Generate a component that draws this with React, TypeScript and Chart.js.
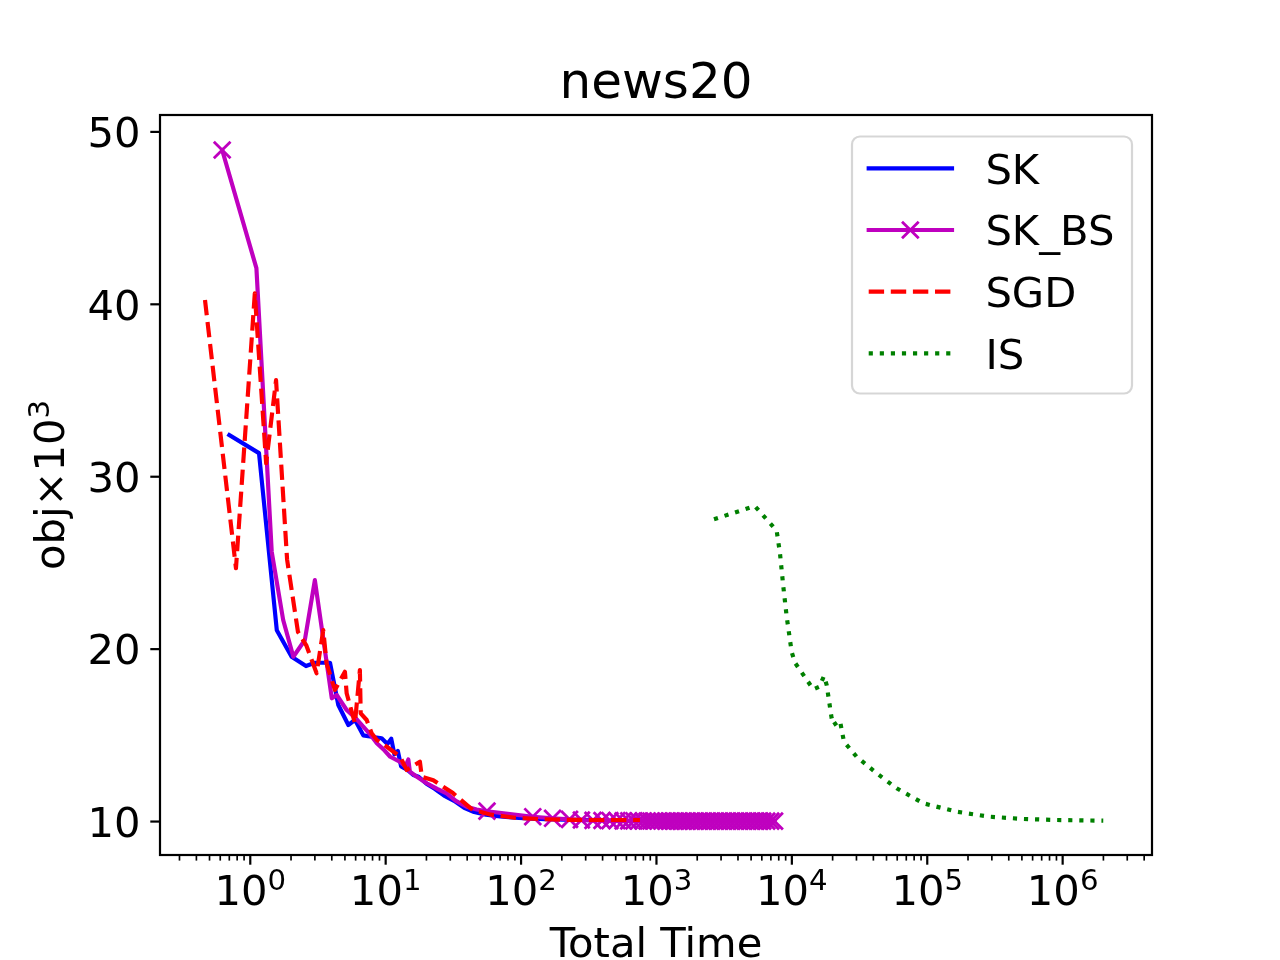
import React, { useEffect, useRef } from "react";
import { Chart, registerables } from "chart.js";

Chart.register(...registerables);

// ---------------- data ----------------
const skTime = [0.70, 1.16, 1.57, 2.02, 2.58, 3.0, 3.88, 4.47, 5.3, 5.93, 6.83, 8.1, 9.34, 10.3, 11.0, 11.6, 12.3, 13.0, 14.5, 16, 17.5, 20, 23, 27, 32, 38, 45, 55, 70, 90, 120, 170, 250, 350];
const skObj = [32.42, 31.37, 21.1, 19.56, 19.02, 19.21, 19.21, 16.76, 15.6, 15.9, 15.0, 14.9, 14.83, 14.5, 14.8, 13.9, 14.1, 13.2, 13.0, 12.7, 12.6, 12.2, 11.9, 11.5, 11.2, 10.8, 10.55, 10.4, 10.3, 10.22, 10.17, 10.12, 10.1, 10.08];

// SK_BS: early (unmarked) iterations, then marked iterations
const skbsHeadTime = [0.62, 1.11, 1.44, 1.75, 2.08, 2.53, 3.0, 4.0, 4.35, 5.15, 6.0, 6.83, 7.6, 8.6, 9.6, 10.8, 12.5, 14.0, 14.7, 15.1, 17, 20.1, 24, 28.2, 33, 39.6, 47];
const skbsHeadObj = [48.95, 42.1, 25.65, 21.69, 19.56, 20.53, 24.0, 17.15, 17.34, 16.47, 16.0, 15.5, 15.1, 14.54, 14.2, 13.76, 13.5, 13.2, 13.6, 12.89, 12.6, 12.22, 11.9, 11.64, 11.2, 10.86, 10.7];
const skbsTailTime = [56, 122, 171, 228, 279, 340, 396, 453, 510, 567, 624, 681, 738, 795, 852, 909, 966, 1030, 1100, 1180, 1260, 1350, 1450, 1550, 1660, 1780, 1900, 2040, 2180, 2340, 2500, 2680, 2870, 3070, 3290, 3520, 3770, 4040, 4320, 4630, 4960, 5310, 5690, 6090, 6520, 6980, 7450];
const skbsTailObj = [10.6, 10.28, 10.19, 10.13, 10.09, 10.07, 10.06, 10.05, 10.05, 10.04, 10.04, 10.04, 10.03, 10.03, 10.03, 10.03, 10.03, 10.03, 10.03, 10.02, 10.02, 10.02, 10.02, 10.02, 10.02, 10.02, 10.02, 10.02, 10.02, 10.02, 10.02, 10.02, 10.02, 10.02, 10.02, 10.02, 10.02, 10.02, 10.02, 10.02, 10.02, 10.02, 10.02, 10.02, 10.02, 10.02, 10.02];

const sgdTime = [0.463, 0.784, 1.08, 1.31, 1.55, 1.87, 2.25, 2.6, 3.09, 3.46, 3.66, 4.22, 5.0, 5.15, 5.93, 6.45, 6.54, 7.24, 7.88, 8.6, 10.2, 12.8, 14.3, 17.9, 18.5, 22.5, 31.4, 44, 60, 90, 140, 220, 350, 520, 755];
const sgdObj = [40.25, 24.69, 40.63, 30.78, 35.6, 25.2, 21.0, 20.2, 18.6, 21.1, 19.18, 17.63, 18.69, 17.44, 15.7, 18.79, 16.28, 15.89, 15.12, 14.73, 14.34, 13.76, 12.99, 13.47, 12.6, 12.4, 11.65, 10.67, 10.4, 10.22, 10.14, 10.1, 10.09, 10.09, 10.09];

const isTime = [2660, 5330, 7720, 8170, 8650, 9160, 9960, 10550, 14400, 15950, 17270, 18080, 19670, 20240, 22650, 24260, 30100, 42300, 59400, 93500, 165000, 290000, 512000, 903000, 1995000];
const isObj = [27.53, 28.3, 26.87, 25.56, 23.62, 21.88, 19.85, 19.21, 17.67, 17.82, 18.44, 17.92, 15.99, 15.6, 15.85, 14.63, 13.76, 12.8, 11.93, 11.06, 10.57, 10.28, 10.15, 10.09, 10.05];

const seriesLabels = ["SK", "SK_BS", "SGD", "IS"];
const xMajorTicks = [1, 10, 100, 1000, 10000, 100000, 1000000];
const xTickExponents = ["0", "1", "2", "3", "4", "5", "6"];
const yTicks = [10, 20, 30, 40, 50];
const titleText = "news20";
const xLabelText = "Total Time";
const yLabelBase = "obj\u00d710";
const yLabelSup = "3";

const X_MIN = 0.2154;
const X_MAX = 4.57e6;
const Y_MIN = 8.06;
const Y_MAX = 50.98;

// ---------------- styling ----------------
const FONT = '"DejaVu Sans", "Liberation Sans", sans-serif';
const F_MAIN = 41.7;
const F_SUP = 29.2;
const F_TITLE = 50;
const LW = 4.17;
const MARKER_R = 11.8;
const C_SK = "#0000ff";
const C_SKBS = "#bf00bf";
const C_SGD = "#ff0000";
const C_IS = "#008000";
const DASH = [15.4, 6.7];
const DOT = [4.17, 6.9];

const zip = (xs: number[], ys: number[]) => xs.map((x, i) => ({ x, y: ys[i] }));

function drawCrossRot(ctx: CanvasRenderingContext2D, x: number, y: number, r: number) {
  const o = Math.cos(Math.PI / 4) * r;
  ctx.beginPath();
  ctx.moveTo(x - o, y - o);
  ctx.lineTo(x + o, y + o);
  ctx.moveTo(x + o, y - o);
  ctx.lineTo(x - o, y + o);
  ctx.stroke();
}

const mplPlugin = {
  id: "mplDecor",
  afterDatasetsDraw(chart: any) {
    const ctx: CanvasRenderingContext2D = chart.ctx;
    const { left, right, top, bottom } = chart.chartArea;
    const xs = chart.scales.x;
    const ys = chart.scales.y;
    ctx.save();

    // frame
    ctx.strokeStyle = "#000";
    ctx.lineWidth = 2.2;
    ctx.setLineDash([]);
    ctx.lineCap = "butt";
    ctx.strokeRect(left, top, right - left, bottom - top);

    // x ticks (major + minor)
    for (let k = -1; k <= 6; k++) {
      for (let m = 1; m <= 9; m++) {
        const v = m * Math.pow(10, k);
        if (v < X_MIN || v > X_MAX) continue;
        const px = xs.getPixelForValue(v);
        const major = m === 1;
        ctx.lineWidth = major ? 2.2 : 1.67;
        ctx.beginPath();
        ctx.moveTo(px, bottom);
        ctx.lineTo(px, bottom + (major ? 9.7 : 5.6));
        ctx.stroke();
      }
    }
    // y ticks
    ctx.lineWidth = 2.2;
    yTicks.forEach((v) => {
      const py = ys.getPixelForValue(v);
      ctx.beginPath();
      ctx.moveTo(left - 9.7, py);
      ctx.lineTo(left, py);
      ctx.stroke();
    });

    ctx.fillStyle = "#000";
    ctx.textBaseline = "alphabetic";

    // x tick labels 10^k
    xMajorTicks.forEach((v, i) => {
      const px = xs.getPixelForValue(v);
      ctx.font = `${F_MAIN}px ${FONT}`;
      const w1 = ctx.measureText("10").width;
      ctx.font = `${F_SUP}px ${FONT}`;
      const w2 = ctx.measureText(xTickExponents[i]).width;
      const x0 = px - (w1 + w2) / 2;
      ctx.textAlign = "left";
      ctx.font = `${F_MAIN}px ${FONT}`;
      ctx.fillText("10", x0, bottom + 50);
      ctx.font = `${F_SUP}px ${FONT}`;
      ctx.fillText(xTickExponents[i], x0 + w1, bottom + 35);
    });

    // y tick labels
    ctx.font = `${F_MAIN}px ${FONT}`;
    ctx.textAlign = "right";
    yTicks.forEach((v) => {
      const py = ys.getPixelForValue(v);
      ctx.fillText(String(v), left - 19.4, py + 15.2);
    });

    // title
    ctx.textAlign = "center";
    ctx.font = `${F_TITLE}px ${FONT}`;
    ctx.fillText(titleText, (left + right) / 2, top - 16.7);

    // x label
    ctx.font = `${F_MAIN}px ${FONT}`;
    ctx.fillText(xLabelText, (left + right) / 2, 957);

    // y label (rotated)
    ctx.save();
    ctx.translate(64, (top + bottom) / 2);
    ctx.rotate(-Math.PI / 2);
    ctx.textAlign = "left";
    ctx.font = `${F_MAIN}px ${FONT}`;
    const wb = ctx.measureText(yLabelBase).width;
    ctx.font = `${F_SUP}px ${FONT}`;
    const ws = ctx.measureText(yLabelSup).width;
    const sx = -(wb + ws) / 2;
    ctx.font = `${F_MAIN}px ${FONT}`;
    ctx.fillText(yLabelBase, sx, 0);
    ctx.font = `${F_SUP}px ${FONT}`;
    ctx.fillText(yLabelSup, sx + wb, -15);
    ctx.restore();

    // legend
    const bx = 852, by = 136.5, bw = 280, bh = 257, br = 8;
    ctx.beginPath();
    ctx.moveTo(bx + br, by);
    ctx.lineTo(bx + bw - br, by);
    ctx.arcTo(bx + bw, by, bx + bw, by + br, br);
    ctx.lineTo(bx + bw, by + bh - br);
    ctx.arcTo(bx + bw, by + bh, bx + bw - br, by + bh, br);
    ctx.lineTo(bx + br, by + bh);
    ctx.arcTo(bx, by + bh, bx, by + bh - br, br);
    ctx.lineTo(bx, by + br);
    ctx.arcTo(bx, by, bx + br, by, br);
    ctx.closePath();
    ctx.fillStyle = "rgba(255,255,255,0.8)";
    ctx.fill();
    ctx.strokeStyle = "rgba(204,204,204,0.8)";
    ctx.lineWidth = 2.2;
    ctx.stroke();

    const rowY = [168.3, 230, 291.7, 353.3];
    const hx0 = 868.7, hx1 = 952;
    chart.data.datasets.forEach((ds: any, i: number) => {
      const y = rowY[i];
      ctx.strokeStyle = ds.borderColor;
      ctx.lineWidth = LW;
      ctx.setLineDash(ds.borderDash || []);
      ctx.lineCap = ds.borderDash ? "butt" : "square";
      ctx.beginPath();
      ctx.moveTo(hx0, y);
      ctx.lineTo(hx1, y);
      ctx.stroke();
      ctx.setLineDash([]);
      if (ds.pointStyle === "crossRot") {
        ctx.lineWidth = 2.8;
        ctx.lineCap = "butt";
        drawCrossRot(ctx, (hx0 + hx1) / 2, y, MARKER_R);
      }
      ctx.fillStyle = "#000";
      ctx.textAlign = "left";
      ctx.font = `${F_MAIN}px ${FONT}`;
      ctx.fillText(ds.label, 985.4, y + 15.2);
    });

    ctx.restore();
  },
};

export default function App() {
  const ref = useRef<HTMLCanvasElement | null>(null);

  useEffect(() => {
    if (!ref.current) return;
    const headLen = skbsHeadTime.length;
    const chart = new Chart(ref.current, {
      type: "line",
      data: {
        datasets: [
          {
            label: seriesLabels[0],
            data: zip(skTime, skObj),
            order: 4,
            borderColor: C_SK,
            borderWidth: LW,
            pointRadius: 0,
            borderCapStyle: "square",
            borderJoinStyle: "round",
            tension: 0,
            fill: false,
          },
          {
            label: seriesLabels[1],
            data: zip(skbsHeadTime.concat(skbsTailTime), skbsHeadObj.concat(skbsTailObj)),
            order: 3,
            borderColor: C_SKBS,
            borderWidth: LW,
            pointStyle: "crossRot",
            pointRadius: (c: any) => (c.dataIndex === 0 || c.dataIndex >= headLen ? MARKER_R : 0),
            pointHoverRadius: 0,
            pointBorderColor: C_SKBS,
            pointBackgroundColor: C_SKBS,
            pointBorderWidth: 2.8,
            borderCapStyle: "square",
            borderJoinStyle: "round",
            tension: 0,
            fill: false,
          },
          {
            label: seriesLabels[2],
            data: zip(sgdTime, sgdObj),
            order: 2,
            borderColor: C_SGD,
            borderWidth: LW,
            borderDash: DASH,
            pointRadius: 0,
            borderCapStyle: "butt",
            borderJoinStyle: "round",
            tension: 0,
            fill: false,
          },
          {
            label: seriesLabels[3],
            data: zip(isTime, isObj),
            order: 1,
            borderColor: C_IS,
            borderWidth: LW,
            borderDash: DOT,
            pointRadius: 0,
            borderCapStyle: "butt",
            borderJoinStyle: "round",
            tension: 0,
            fill: false,
          },
        ],
      } as any,
      options: {
        animation: false,
        responsive: false,
        maintainAspectRatio: false,
        events: [],
        layout: { padding: { left: 160, top: 115, right: 128, bottom: 105 } },
        plugins: {
          legend: { display: false },
          title: { display: false },
          tooltip: { enabled: false },
        },
        scales: {
          x: {
            type: "logarithmic",
            min: X_MIN,
            max: X_MAX,
            bounds: "data",
            display: false,
          },
          y: {
            type: "linear",
            min: Y_MIN,
            max: Y_MAX,
            bounds: "data",
            display: false,
          },
        },
      } as any,
      plugins: [mplPlugin],
    });
    return () => chart.destroy();
  }, []);

  return (
    <div style={{ position: "absolute", left: 0, top: 0, width: 1280, height: 960, background: "#fff" }}>
      <canvas ref={ref} width={1280} height={960} style={{ width: 1280, height: 960, display: "block" }} />
    </div>
  );
}
